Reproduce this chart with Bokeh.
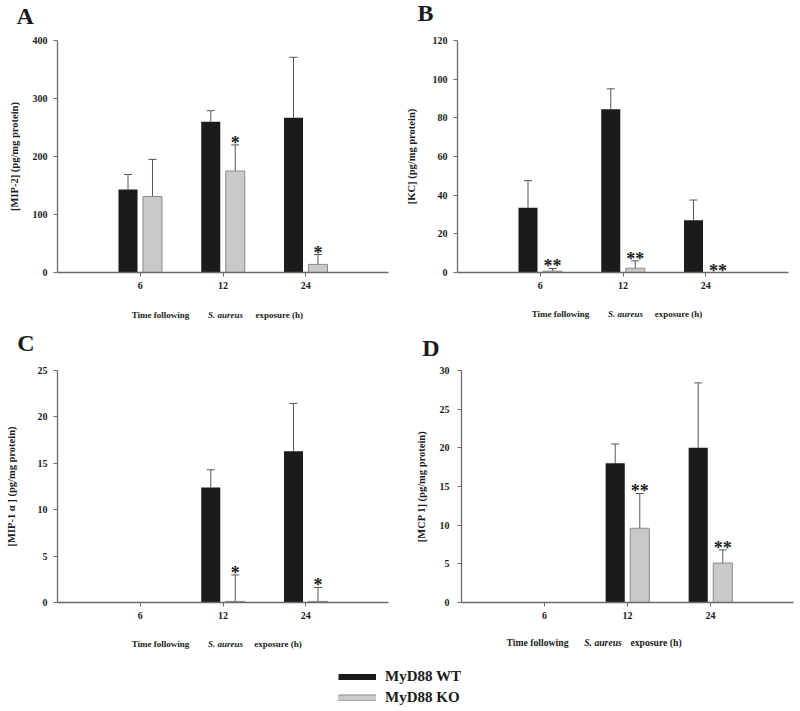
import math
from bokeh.plotting import figure
from bokeh.layouts import column, row
from bokeh.models import (FixedTicker, Whisker, TeeHead, ColumnDataSource,
                          Legend, LegendItem, Range1d)
from bokeh.transform import dodge
from bokeh.core.properties import value
from bokeh.embed import file_html
from bokeh.resources import INLINE

# ---------------- data ----------------
categories = ["6", "12", "24"]

mip2_wt = [143, 260, 267]
mip2_wt_err = [26, 19, 104]
mip2_ko = [131, 175, 14]
mip2_ko_err = [64, 45, 17]
mip2_stars = ["", "*", "*"]
mip2_ticks = [0, 100, 200, 300, 400]

kc_wt = [33.5, 84.5, 27]
kc_wt_err = [14, 10.5, 10.5]
kc_ko = [0.7, 2.2, 0]
kc_ko_err = [1.4, 3.8, 0]
kc_stars = ["**", "**", "**"]
kc_ticks = [0, 20, 40, 60, 80, 100, 120]

mip1a_wt = [0, 12.4, 16.3]
mip1a_wt_err = [0, 1.9, 5.15]
mip1a_ko = [0, 0.12, 0.12]
mip1a_ko_err = [0, 2.85, 1.5]
mip1a_stars = ["", "*", "*"]
mip1a_ticks = [0, 5, 10, 15, 20, 25]

mcp1_wt = [0, 18.0, 20.0]
mcp1_wt_err = [0, 2.5, 8.4]
mcp1_ko = [0, 9.6, 5.1]
mcp1_ko_err = [0, 4.5, 1.7]
mcp1_stars = ["", "**", "**"]
mcp1_ticks = [0, 5, 10, 15, 20, 25, 30]

series_names = ["MyD88 WT", "MyD88 KO"]
xlabel_parts = ["Time following", "S. aureus", "exposure (h)"]

# ---------------- style ----------------
SERIF = "Liberation Serif"
WT_FILL = "#1d1a1b"
KO_FILL = "#c9c9c9"
KO_LINE = "#8a8a8a"
AXIS_C = "#6a6a6a"
ERR_C = "#555555"
TXT_C = "#1a1a1a"
OFF = 0.148
BAR_W = 0.23
TOTAL_W = 798
BASE_SHIFT = 0.33   # rendered baseline sits ~0.33em below the requested one


def panel(ylabel, wt, wt_err, ko, ko_err, stars, yticks, width, height,
          borders, label_standoff, tick_standoff=6):
    bl, br, bt, bb = borders
    p = figure(width=width, height=height, output_backend="svg", toolbar_location=None,
               title=None, x_range=Range1d(-1, 3), y_range=Range1d(yticks[0], yticks[-1]),
               min_border_left=bl, min_border_right=br, min_border_top=bt,
               min_border_bottom=bb)
    p.outline_line_color = None
    p.grid.visible = False

    xs = list(range(len(categories)))
    src = ColumnDataSource(dict(
        x=xs, wt=wt, ko=ko,
        wt_hi=[v + e for v, e in zip(wt, wt_err)],
        ko_hi=[v + e for v, e in zip(ko, ko_err)],
        stars=stars))

    p.vbar(x=dodge("x", -OFF, range=p.x_range), top="wt", width=BAR_W, bottom=0,
           source=src, fill_color=WT_FILL, line_color=None)
    p.vbar(x=dodge("x", OFF, range=p.x_range), top="ko", width=BAR_W, bottom=0,
           source=src, fill_color=KO_FILL, line_color=KO_LINE, line_width=1)

    for vals, errs, off in ((wt, wt_err, -OFF), (ko, ko_err, OFF)):
        idx = [i for i, e in enumerate(errs) if e > 0]
        esrc = ColumnDataSource(dict(
            x=[xs[i] for i in idx], lo=[vals[i] for i in idx],
            hi=[vals[i] + errs[i] for i in idx]))
        p.add_layout(Whisker(base=dodge("x", off, range=p.x_range), lower="lo",
                             upper="hi", source=esrc, line_color=ERR_C, line_width=1,
                             lower_head=None,
                             upper_head=TeeHead(size=8, line_color=ERR_C, line_width=1)))

    p.text(x=dodge("x", OFF, range=p.x_range), y="ko_hi", text="stars", source=src,
           text_font=value(SERIF), text_font_style="bold", text_font_size="18px",
           text_align="center", text_baseline="alphabetic", y_offset=-2,
           text_color=TXT_C)

    p.xaxis.ticker = FixedTicker(ticks=xs)
    p.xaxis.major_label_overrides = {i: c for i, c in enumerate(categories)}
    p.yaxis.ticker = FixedTicker(ticks=yticks)
    for ax in (p.xaxis, p.yaxis):
        ax.minor_tick_line_color = None
        ax.major_tick_in = 0
        ax.major_tick_out = 4
        ax.axis_line_color = AXIS_C
        ax.axis_line_width = 1.3
        ax.major_tick_line_color = AXIS_C
        ax.major_label_text_font = SERIF
        ax.major_label_text_font_style = "bold"
        ax.major_label_text_font_size = "10px"
        ax.major_label_text_color = TXT_C
    p.xaxis.major_label_standoff = 5
    p.yaxis.major_label_standoff = tick_standoff
    p.yaxis.axis_label = ylabel
    p.yaxis.axis_label_text_font = SERIF
    p.yaxis.axis_label_text_font_style = "bold"
    p.yaxis.axis_label_text_font_size = "10.5px"
    p.yaxis.axis_label_text_color = TXT_C
    p.yaxis.axis_label_standoff = label_standoff
    return p


def strip(height):
    s = figure(width=TOTAL_W, height=height, output_backend="svg", toolbar_location=None,
               title=None, x_axis_type=None, y_axis_type=None, min_border=0,
               x_range=Range1d(0, TOTAL_W), y_range=Range1d(height, 0))
    s.outline_line_color = None
    s.grid.visible = False
    return s


def letters(s, xs, ys, txt, size=24):
    s.text(x=xs, y=[y - BASE_SHIFT * size for y in ys], text=txt,
           text_font=value(SERIF), text_font_style="bold",
           text_font_size=f"{size}px", text_align="left", text_baseline="alphabetic",
           text_color=TXT_C)


def xlabel(s, centers, y, size=9.0):
    styles = ["bold", "bold italic", "bold"]
    for c, t, st in zip(centers, xlabel_parts, styles):
        s.text(x=[c], y=[y - BASE_SHIFT * size], text=[t], text_font=value(SERIF),
               text_font_style=st, text_font_size=f"{size}px", text_align="center",
               text_baseline="alphabetic", text_color=TXT_C)


# panels
pA = panel("[MIP-2] (pg/mg protein)", mip2_wt, mip2_wt_err, mip2_ko, mip2_ko_err,
           mip2_stars, mip2_ticks, 400, 272, (57, 12, 12, 28), 10)
pB = panel("[KC] (pg/mg protein)", kc_wt, kc_wt_err, kc_ko, kc_ko_err,
           kc_stars, kc_ticks, 398, 272, (57, 10, 12, 28), 13)
pC = panel("[MIP-1 \u03b1 ] (pg/mg protein)", mip1a_wt, mip1a_wt_err, mip1a_ko,
           mip1a_ko_err, mip1a_stars, mip1a_ticks, 400, 270, (57, 12, 10, 28), 18)
pD = panel("[MCP 1] (pg/mg protein)", mcp1_wt, mcp1_wt_err, mcp1_ko, mcp1_ko_err,
           mcp1_stars, mcp1_ticks, 398, 270, (61, 5, 10, 28), 10, tick_standoff=8)

# text strips (page y: s0 0-28, s1 300-360, s2 630-709)
s0 = strip(28)
letters(s0, [16, 417], [23, 20], ["A", "B"])

s1 = strip(60)
xlabel(s1, [160, 225, 278.7], 17)
xlabel(s1, [560, 625, 678], 16)
letters(s1, [16.7, 421.7], [50, 55], ["C", "D"])

s2 = strip(79)
xlabel(s2, [160, 225, 277.5], 16.7)
xlabel(s2, [537, 602.5, 655.5], 15, size=9.7)

# legend keys: thick line swatches (grey one with a darker rim)
nan = float("nan")
k_wt = s2.line(x=[nan], y=[nan], line_color=WT_FILL, line_width=6)
k_ko_rim = s2.line(x=[nan], y=[nan], line_color=KO_LINE, line_width=7)
k_ko = s2.line(x=[nan], y=[nan], line_color=KO_FILL, line_width=5)
leg = Legend(items=[LegendItem(label=series_names[0], renderers=[k_wt]),
                    LegendItem(label=series_names[1], renderers=[k_ko_rim, k_ko])],
             location=(338, 3), border_line_color=None, background_fill_alpha=0,
             padding=0, margin=0, spacing=3, glyph_width=38, glyph_height=7,
             label_standoff=9, label_height=18, label_text_font=SERIF,
             label_text_font_style="bold", label_text_font_size="15px",
             label_text_color=TXT_C)
s2.add_layout(leg)

layout = column(s0, row(pA, pB), s1, row(pC, pD), s2)

with open("out.html", "w") as f:
    f.write(file_html(layout, INLINE))
